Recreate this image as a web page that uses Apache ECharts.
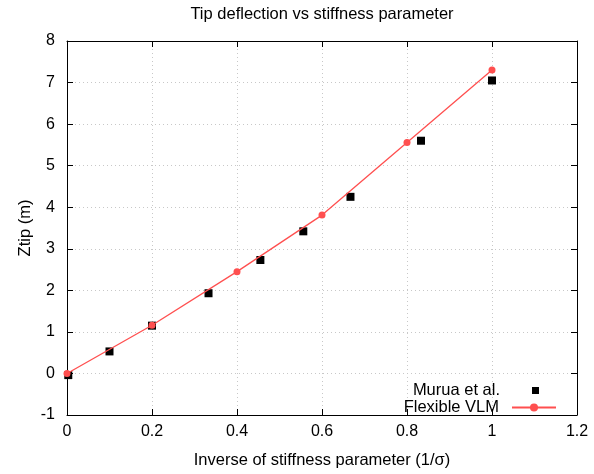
<!DOCTYPE html>
<html>
<head>
<meta charset="utf-8">
<script src="https://cdn.jsdelivr.net/npm/echarts@6/dist/echarts.min.js"></script>
<style>
  html, body { margin: 0; padding: 0; background: #fff; }
  #chart { width: 594px; height: 474px; }
</style>
</head>
<body>
<div id="chart"></div>
<script>
// Reference measurements (Murua et al.)
const muruaX = [0.003, 0.1, 0.2, 0.333, 0.455, 0.556, 0.667, 0.833, 1.0];
const muruaZ = [-0.04, 0.53, 1.15, 1.93, 2.73, 3.42, 4.25, 5.60, 7.05];

// Flexible VLM results
const vlmX = [0, 0.2, 0.4, 0.6, 0.8, 1.0];
const vlmZ = [0, 1.16, 2.45, 3.81, 5.56, 7.30];

const xTicks = [0, 0.2, 0.4, 0.6, 0.8, 1, 1.2];
const yTicks = [-1, 0, 1, 2, 3, 4, 5, 6, 7, 8];

const font = 'Liberation Sans, Arial, Helvetica, sans-serif';
const textSize = 16.5;
const tickSize = 16;
const red = '#ff4f4f';

const pairs = (xs, ys) => xs.map((x, i) => [x, ys[i]]);

const chart = echarts.init(document.getElementById('chart'), null, { renderer: 'canvas' });

const frameLine = { show: true, onZero: false, lineStyle: { color: '#000', width: 1 } };
const innerTick = { show: true, inside: true, length: 6, lineStyle: { color: '#000', width: 1 } };
const dottedGrid = { show: true, lineStyle: { color: '#c8c8c8', type: [1, 3], width: 1 } };

const tickFormatter = ticks => v => {
  const t = ticks.find(k => Math.abs(k - v) < 1e-9);
  return t === undefined ? '' : String(t);
};

chart.setOption({
  animation: false,
  backgroundColor: '#fff',
  title: {
    text: 'Tip deflection vs stiffness parameter',
    left: 322, textAlign: 'center', top: 6, padding: 0,
    textStyle: { fontFamily: font, fontSize: textSize, fontWeight: 'normal', color: '#000' }
  },
  grid: { left: 67, right: 17, top: 41, bottom: 54, containLabel: false },
  legend: [
    {
      data: [{ name: 'Murua et al.', icon: 'rect' }],
      right: 55, top: 382, padding: 0, align: 'right', orient: 'vertical',
      itemWidth: 7, itemHeight: 7,
      textStyle: { fontFamily: font, fontSize: textSize, color: '#000', padding: [0, 27, 0, 0] }
    },
    {
      data: ['Flexible VLM'],
      right: 37, top: 399, padding: 0, align: 'right', orient: 'vertical',
      itemWidth: 44, itemHeight: 10, itemGap: 0,
      textStyle: { fontFamily: font, fontSize: textSize, color: '#000', padding: [0, 8, 0, 0] }
    }
  ],
  xAxis: [
    {
      type: 'value', min: 0, max: 1.2, interval: 0.2,
      name: 'Inverse of stiffness parameter (1/σ)',
      nameLocation: 'middle', nameGap: 37, nameMoveOverlap: false,
      nameTextStyle: { fontFamily: font, fontSize: textSize, color: '#000' },
      axisLine: frameLine, axisTick: innerTick, splitLine: dottedGrid,
      axisLabel: {
        margin: 9, fontFamily: font, fontSize: tickSize, color: '#000',
        formatter: tickFormatter(xTicks)
      }
    },
    {
      type: 'value', position: 'top', min: 0, max: 1.2, interval: 0.2,
      axisLine: frameLine, axisTick: innerTick, splitLine: { show: false },
      axisLabel: { show: false }
    }
  ],
  yAxis: [
    {
      type: 'value', min: -1, max: 8, interval: 1,
      name: 'Ztip (m)', nameLocation: 'middle', nameGap: 33, nameMoveOverlap: false,
      nameTextStyle: { fontFamily: font, fontSize: textSize, color: '#000' },
      axisLine: frameLine, axisTick: innerTick, splitLine: dottedGrid,
      axisLabel: {
        margin: 12, fontFamily: font, fontSize: tickSize, color: '#000',
        formatter: tickFormatter(yTicks)
      }
    },
    {
      type: 'value', position: 'right', min: -1, max: 8, interval: 1,
      axisLine: frameLine, axisTick: innerTick, splitLine: { show: false },
      axisLabel: { show: false }
    }
  ],
  series: [
    {
      name: 'Murua et al.', type: 'scatter',
      xAxisIndex: 0, yAxisIndex: 0,
      symbol: 'rect', symbolSize: 8,
      itemStyle: { color: '#000', opacity: 1 },
      data: pairs(muruaX, muruaZ), z: 2
    },
    {
      name: 'Flexible VLM', type: 'line',
      xAxisIndex: 0, yAxisIndex: 0,
      symbol: 'circle', symbolSize: 7, showSymbol: true,
      lineStyle: { color: red, width: 1.3 },
      itemStyle: { color: red, opacity: 1 },
      data: pairs(vlmX, vlmZ), z: 3, clip: false
    }
  ]
});
</script>
</body>
</html>
